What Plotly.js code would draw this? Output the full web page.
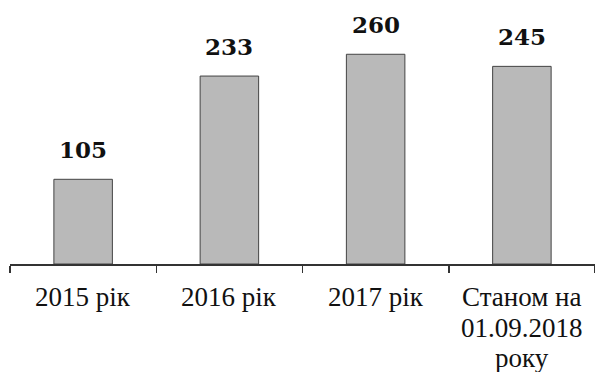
<!DOCTYPE html>
<html>
<head>
<meta charset="utf-8">
<script src="https://cdn.plot.ly/plotly-3.0.1.min.js"></script>
<style>html,body{margin:0;padding:0;background:#fff;}</style>
</head>
<body>
<div id="chart" style="width:595px;height:372px;"></div>
<script>
const categories = ["2015 рік", "2016 рік", "2017 рік", "Станом на<br>01.09.2018<br>року"];
const values = [105, 233, 260, 245];
const valueLabels = ["105", "233", "260", "245"];

const serif = "Liberation Serif";
const boldSerif = "DejaVu Serif";

const trace = {
  type: "bar",
  x: categories,
  y: values,
  width: 0.4,
  marker: { color: "#b9b9b9", line: { color: "#444", width: 1 } }
};

const annotations = [];
categories.forEach((c, i) => {
  c.split("<br>").forEach((line, k) => {
    annotations.push({
      x: c, y: 0, text: line, showarrow: false,
      yanchor: "top", yshift: -16 - k * 30.5,
      font: { family: serif, size: 27, color: "#111" }
    });
  });
});
categories.forEach((c, i) => {
  annotations.push({
    x: c, y: values[i], text: "<b>" + valueLabels[i] + "</b>",
    showarrow: false, yanchor: "bottom", yshift: 14,
    font: { family: boldSerif, size: 23, color: "#111" }
  });
});

const layout = {
  width: 595, height: 372,
  margin: { l: 10, r: 0, t: 22, b: 108 },
  showlegend: false,
  xaxis: {
    type: "category",
    range: [-0.5, 3.5],
    showline: true, linecolor: "#333", linewidth: 1.5,
    ticks: "outside", tickson: "boundaries", ticklen: 7, tickcolor: "#333", tickwidth: 1.5,
    showticklabels: false,
    showgrid: false, zeroline: false
  },
  yaxis: {
    range: [0, 300], visible: false, showgrid: false, zeroline: false
  },
  annotations: annotations
};

Plotly.newPlot("chart", [trace], layout, { staticPlot: true });
</script>
</body>
</html>
